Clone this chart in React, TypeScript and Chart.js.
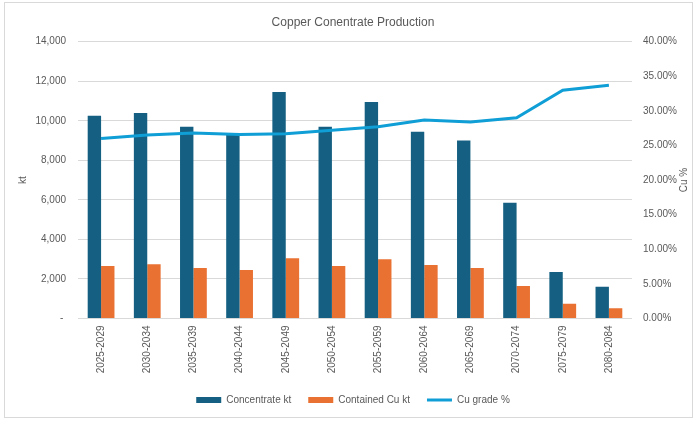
import React, { useEffect, useRef } from "react";
import { Chart, registerables } from "chart.js";

Chart.register(...registerables);

const categories = [
  "2025-2029", "2030-2034", "2035-2039", "2040-2044", "2045-2049", "2050-2054",
  "2055-2059", "2060-2064", "2065-2069", "2070-2074", "2075-2079", "2080-2084",
];
const concentrateKt = [10250, 10400, 9700, 9300, 11450, 9700, 10950, 9450, 9000, 5850, 2350, 1600];
const containedCuKt = [2650, 2750, 2550, 2450, 3050, 2650, 3000, 2700, 2550, 1650, 750, 520];
const cuGradePct = [26.0, 26.5, 26.8, 26.6, 26.7, 27.2, 27.7, 28.7, 28.4, 29.0, 33.0, 33.7];

const FONT = "'Liberation Sans', Arial, sans-serif";
const TEXT = "#595959";
const GRID = "#d9d9d9";
const LEGEND_ORDER = ["Concentrate kt", "Contained Cu kt", "Cu grade %"];

const rightTitlePlugin = {
  id: "rightTitle",
  afterDraw(chart: any) {
    const s = chart.scales.y1;
    const area = chart.chartArea;
    const ctx = chart.ctx;
    ctx.save();
    ctx.translate(s.right - 9, (area.top + area.bottom) / 2);
    ctx.rotate(-Math.PI / 2);
    ctx.font = `10px ${FONT}`;
    ctx.fillStyle = TEXT;
    ctx.textAlign = "center";
    ctx.textBaseline = "middle";
    ctx.fillText("Cu %", 0, 0);
    ctx.restore();
  },
};

export default function App() {
  const ref = useRef<HTMLCanvasElement | null>(null);

  useEffect(() => {
    if (!ref.current) return;
    Chart.defaults.font.family = FONT;
    Chart.defaults.font.size = 10;
    Chart.defaults.color = TEXT;
    const chart = new Chart(ref.current, {
      type: "bar",
      data: {
        labels: categories,
        datasets: [
          {
            type: "line",
            label: "Cu grade %",
            data: cuGradePct,
            yAxisID: "y1",
            borderColor: "#0F9ED5",
            backgroundColor: "#0F9ED5",
            borderWidth: 3,
            pointRadius: 0,
            tension: 0,
            order: 0,
          } as any,
          {
            type: "bar",
            label: "Concentrate kt",
            data: concentrateKt,
            yAxisID: "y",
            backgroundColor: "#156082",
            borderWidth: 0,
            order: 1,
          },
          {
            type: "bar",
            label: "Contained Cu kt",
            data: containedCuKt,
            yAxisID: "y",
            backgroundColor: "#E97132",
            borderWidth: 0,
            order: 1,
          },
        ],
      },
      options: {
        responsive: false,
        maintainAspectRatio: false,
        animation: false,
        layout: { padding: { left: 13, right: 7, top: 0, bottom: 7 } },
        datasets: { bar: { categoryPercentage: 0.58, barPercentage: 1 } },
        plugins: {
          tooltip: { enabled: false },
          title: {
            display: true,
            text: "Copper Conentrate Production",
            color: TEXT,
            font: { size: 12, weight: "normal", family: FONT },
            padding: { top: 15.8, bottom: 11.5 },
          },
          legend: {
            position: "bottom",
            labels: {
              usePointStyle: true,
              pointStyleWidth: 25,
              boxHeight: 6,
              padding: 17,
              color: TEXT,
              font: { size: 10, family: FONT },
              generateLabels: (ch: any) => {
                const items = Chart.defaults.plugins.legend.labels.generateLabels(ch);
                const mapped = items.map((it: any) => {
                  const ds: any = ch.data.datasets[it.datasetIndex];
                  const isLine = ds.type === "line";
                  const c = isLine ? ds.borderColor : ds.backgroundColor;
                  return {
                    ...it,
                    pointStyle: isLine ? "line" : "rect",
                    lineWidth: isLine ? 3 : 0,
                    fillStyle: c,
                    strokeStyle: c,
                    fontColor: TEXT,
                  };
                });
                mapped.sort((a: any, b: any) => LEGEND_ORDER.indexOf(a.text) - LEGEND_ORDER.indexOf(b.text));
                return mapped;
              },
            },
          },
        },
        scales: {
          x: {
            grid: { display: false, drawTicks: false },
            border: { display: false },
            ticks: { minRotation: 90, maxRotation: 90, autoSkip: false, padding: 7, color: TEXT },
            afterFit: (s: any) => { s.height = 59.5; },
          },
          y: {
            position: "left",
            min: 0,
            max: 14000,
            ticks: {
              stepSize: 2000,
              padding: 12,
              color: TEXT,
              callback: (v: any) => (v === 0 ? "- " : Number(v).toLocaleString("en-US")),
            },
            grid: { color: GRID, drawTicks: false, lineWidth: 1 },
            border: { display: false },
            title: { display: true, text: "kt", color: TEXT, font: { size: 10, family: FONT }, padding: { top: 4, bottom: 4 } },
            afterFit: (s: any) => { s.width = 65; },
          },
          y1: {
            position: "right",
            min: 0,
            max: 40,
            ticks: {
              stepSize: 5,
              padding: 11,
              color: TEXT,
              callback: (v: any) => Number(v).toFixed(2) + "%",
            },
            grid: { display: false, drawTicks: false },
            border: { display: false },
            afterFit: (s: any) => { s.width = 61; },
          },
        },
      } as any,
      plugins: [rightTitlePlugin],
    });
    return () => chart.destroy();
  }, []);

  return (
    <div style={{ position: "fixed", left: 0, top: 0, width: 700, height: 422, background: "#fff" }}>
      <div
        style={{
          position: "absolute",
          left: 4,
          top: 2,
          width: 689,
          height: 416,
          border: "1px solid #d9d9d9",
          boxSizing: "border-box",
        }}
      />
      <canvas ref={ref} width={700} height={422} style={{ position: "absolute", left: 0, top: 0, width: 700, height: 422 }} />
    </div>
  );
}
